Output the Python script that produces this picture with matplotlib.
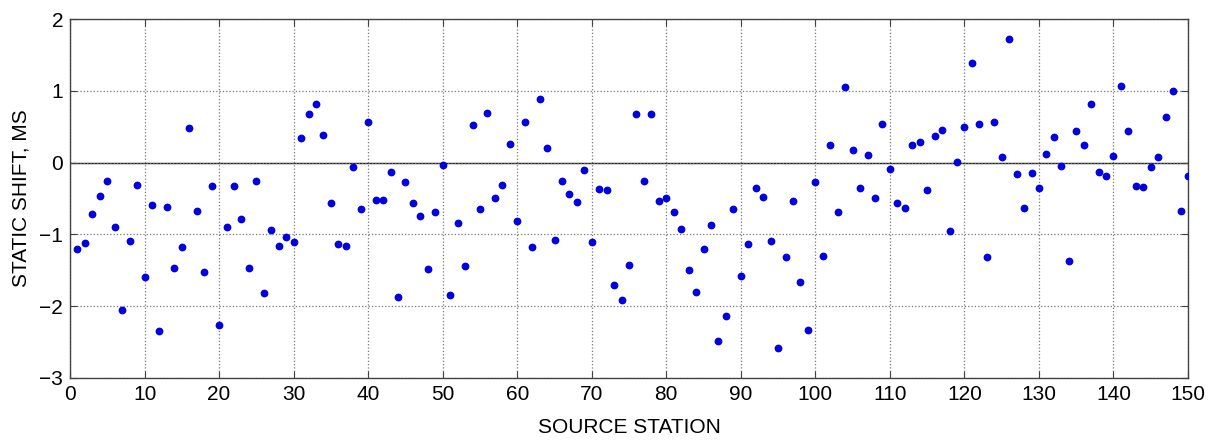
import numpy as np
import matplotlib
matplotlib.use("Agg")
import matplotlib.pyplot as plt

plt.rcParams['font.family'] = ['Liberation Sans', 'DejaVu Sans']

# static shift per source station (ms)
station = list(range(1, 151))
shift = [
    -1.21, -1.12, -0.72, -0.46, -0.25, -0.90, -2.05, -1.09, -0.31, -1.60,
    -0.59, -2.35, -0.62, -1.47, -1.17, 0.48, -0.68, -1.53, -0.33, -2.26,
    -0.90, -0.32, -0.78, -1.47, -0.25, -1.82, -0.94, -1.16, -1.04, -1.10,
    0.34, 0.68, 0.81, 0.39, -0.56, -1.14, -1.16, -0.06, -0.64, 0.57,
    -0.52, -0.52, -0.13, -1.87, -0.27, -0.56, -0.74, -1.48, -0.69, -0.03,
    -1.84, -0.84, -1.44, 0.53, -0.64, 0.69, -0.49, -0.31, 0.26, -0.82,
    0.57, -1.17, 0.88, 0.21, -1.08, -0.25, -0.44, -0.55, -0.10, -1.10,
    -0.37, -0.38, -1.70, -1.92, -1.43, 0.68, -0.25, 0.68, -0.53, -0.49,
    -0.69, -0.92, -1.50, -1.81, -1.20, -0.87, -2.49, -2.14, -0.65, -1.58,
    -1.13, -0.36, -0.48, -1.09, -2.58, -1.32, -0.53, -1.66, -2.33, -0.27,
    -1.30, 0.24, -0.69, 1.06, 0.17, -0.35, 0.11, -0.49, 0.54, -0.09,
    -0.57, -0.63, 0.25, 0.29, -0.38, 0.37, 0.46, -0.96, 0.01, 0.50,
    1.39, 0.54, -1.31, 0.56, 0.08, 1.72, -0.16, -0.63, -0.15, -0.35,
    0.12, 0.35, -0.05, -1.37, 0.44, 0.25, 0.81, -0.13, -0.19, 0.09,
    1.07, 0.44, -0.32, -0.34, -0.06, 0.08, 0.63, 1.00, -0.67, -0.19,
]

fig = plt.figure(figsize=(12.16, 4.43), dpi=100)
ax = fig.add_axes([0.0576, 0.147, 0.9194, 0.81])

ax.axhline(0, color='#222222', lw=1.0, zorder=1)
ax.plot(station, shift, 'o', color='#0000e0', markersize=4.6, zorder=3)

ax.set_xlim(0, 150)
ax.set_ylim(-3, 2)
ax.set_xticks(np.arange(0, 151, 10))
ax.set_yticks(np.arange(-3, 3, 1))
ax.grid(True, linestyle=':', color='#777777', lw=0.9)
ax.tick_params(direction='in', top=True, right=True, length=5,
               labelsize=15, color='#444444', pad=5)
for s in ax.spines.values():
    s.set_color('#444444')
    s.set_linewidth(1.0)

ax.set_xlabel('SOURCE STATION', fontsize=15, labelpad=10)
ax.set_ylabel('STATIC SHIFT, MS', fontsize=15, labelpad=6)

fig.savefig('out.png', dpi=100)
